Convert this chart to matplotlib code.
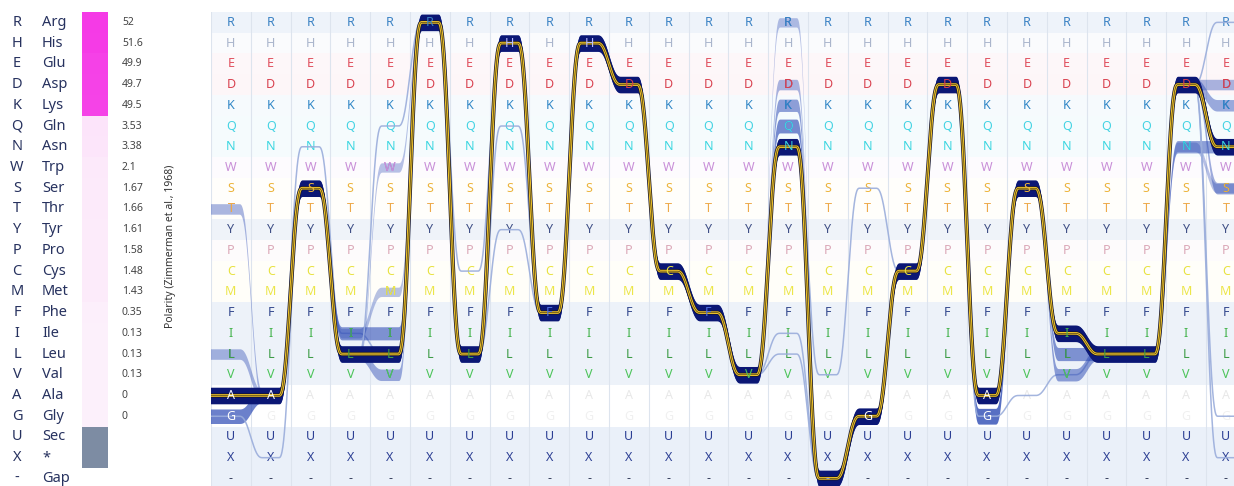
import matplotlib
matplotlib.use('Agg')
import matplotlib.pyplot as plt
import numpy as np
from matplotlib.colors import LinearSegmentedColormap, Normalize

plt.rcParams['font.family'] = ['Noto Sans', 'DejaVu Sans']

# residues, top to bottom
codes = ['R', 'H', 'E', 'D', 'K', 'Q', 'N', 'W', 'S', 'T', 'Y', 'P', 'C', 'M',
         'F', 'I', 'L', 'V', 'A', 'G', 'U', 'X', '-']
names = ['Arg', 'His', 'Glu', 'Asp', 'Lys', 'Gln', 'Asn', 'Trp', 'Ser', 'Thr', 'Tyr',
         'Pro', 'Cys', 'Met', 'Phe', 'Ile', 'Leu', 'Val', 'Ala', 'Gly', 'Sec', '*', 'Gap']
polarity = [52, 51.6, 49.9, 49.7, 49.5, 3.53, 3.38, 2.1, 1.67, 1.66, 1.61, 1.58,
            1.48, 1.43, 0.35, 0.13, 0.13, 0.13, 0, 0]   # Sec, * and Gap have no value

letter_colors = ['#3b82c4', '#aab5cc', '#e0505e', '#d9414f', '#2f86c6', '#43d3e3',
                 '#3ad6e0', '#c98fd8', '#ecb43c', '#eda94a', '#3f4f86', '#dba8b8',
                 '#e8e23e', '#ece64a', '#34498e', '#44b34c', '#3e9c47', '#4cc45a',
                 '#e8e8e8', '#f0f0f0', '#2c3f94', '#2c3f94', '#333c5a']
row_tints = ['#eef3fa', '#fafbfd', '#fdf7f9', '#fdf6f8', '#f6fafd', '#f5fbfd',
             '#f5fbfd', '#fdfbfe', '#fffefb', '#fffefb', '#eff3f9', '#fdfbfc',
             '#fffef9', '#fffef9', '#edf2f9', '#edf2f9', '#edf2f9', '#edf2f9',
             '#ffffff', '#ffffff', '#eaf0f9', '#eaf0f9', '#eaf0f9']

# consensus sequence and the sequences that leave it
consensus = "AASLLRLHFHDCFVN-GCDASILLDN"
consensus_count = 30
variant_paths = [
    "GASLLRLHFHDCFVN-GCDASILLDN", "TASLLRLHFHDCFVN-GCDASILLDN",
    "LASLLRLHFHDCFVN-GCDASILLDN", "GXSLLRLHFHDCFVN-GCDASILLDN",
    "AANILRLHFHDCFVN-GCDASILLDN", "AASIIRLHFHDCFVN-GCDASILLDN",
    "AASLVRLHFHDCFVN-GCDASILLDN", "AASIMRLHFHDCFVN-GCDASILLDN",
    "AASLWRLHFHDCFVN-GCDASILLDN", "AASLQRLHFHDCFVN-GCDASILLDN",
    "AASLLRCHFHDCFVN-GCDASILLDN", "AASLLRLQFHDCFVN-GCDASILLDN",
    "AASLLRLYFHDCFVN-GCDASILLDN", "AASLLRLHFHDCFVR-GCDASILLDN",
    "AASLLRLHFHDCFVD-GCDASILLDN", "AASLLRLHFHDCFVK-GCDASILLDN",
    "AASLLRLHFHDCFVQ-GCDASILLDN", "AASLLRLHFHDCFVI-GCDASILLDN",
    "AASLLRLHFHDCFVL-GCDASILLDN", "AASLLRLHFHDCFVNVSCDASILLDN",
    "AASLLRLHFHDCFVN-GCDGSILLDN", "AASLLRLHFHDCFVN-GCDGAVLLDN",
    "AASLLRLHFHDCFVN-GCDASLLLDN", "AASLLRLHFHDCFVN-GCDASVLLDN",
    "AASLLRLHFHDCFVN-GCDASILLNN", "AASLLRLHFHDCFVN-GCDASILLNS",
    "AASLLRLHFHDCFVN-GCDASILLDD", "AASLLRLHFHDCFVN-GCDASILLDK",
    "AASLLRLHFHDCFVN-GCDASILLDS", "AASLLRLHFHDCFVN-GCDASILLDR",
    "AASLLRLHFHDCFVN-GCDASILLDG", "AASLLRLHFHDCFVN-GCDASILLDX",
]
variant_counts = [8, 3, 3, 1, 1, 6, 4, 2, 2, 1, 1, 1, 1, 2, 3, 5, 7, 1, 1, 1,
                  10, 1, 6, 5, 5, 2, 3, 4, 4, 1, 1, 1]

NAVY = '#0b1775'
BLUE = '#2d4bb5'
LIGHT = '#9aaddb'
row_of = {c: i for i, c in enumerate(codes)}
n_cols = len(consensus)


def smooth_path(seq, x, p=0.2):
    """Flat at each column, smoothstep in between."""
    rows = np.array([row_of[c] for c in seq], float)
    k = np.floor(x).astype(int)
    i = np.clip(k, 0, n_cols - 1)
    j = np.clip(k + 1, 0, n_cols - 1)
    u = np.clip((x - k - p) / (1 - 2 * p), 0, 1)
    s = u ** 3 * (u * (6 * u - 15) + 10)
    y = rows[i] + (rows[j] - rows[i]) * s
    y[x < 0] = rows[0]
    return y


fig = plt.figure(figsize=(12.34, 4.86), dpi=100)
fig.patch.set_facecolor('white')
ytop, ybot = -0.5, -0.5 + 474 / 20.73
axpos_h = 474 / 486

# ---- main flow panel
ax = fig.add_axes([211 / 1234, 0, 1023 / 1234, axpos_h])
ax.set_xlim(-0.5, -0.5 + 1023 / 39.8)
ax.set_ylim(ybot, ytop)
ax.set_axis_off()

for r, tint in enumerate(row_tints):
    ax.axhspan(r - 0.5, r + 0.5, color=tint, lw=0, zorder=0)
for c in range(-1, n_cols):
    ax.axvline(c + 0.5, color='#dde4ee', lw=0.8, zorder=1)

for c in range(n_cols):
    for r, code in enumerate(codes):
        ax.text(c, r, code, ha='center', va='center', fontsize=9,
                color=letter_colors[r], zorder=2)

x = np.linspace(-0.6, n_cols + 0.6, 4000)

# sequences that leave the consensus
for seq, cnt in zip(variant_paths, variant_counts):
    y = smooth_path(seq, x)
    if cnt == 1:
        ax.plot(x, y, color=LIGHT, lw=1.1, alpha=0.9, zorder=3)
    else:
        h = min(0.1 + 0.28 * np.sqrt(cnt / 10), 0.4)
        ax.fill_between(x, y - h, y + h, color=BLUE, lw=0,
                        alpha=min(0.22 + 0.06 * cnt, 0.8), zorder=3)

# consensus bundle
yc = smooth_path(consensus, x)
ax.fill_between(x, yc - 0.4, yc + 0.4, color=NAVY, lw=0, zorder=4)
ax.plot(x, yc, color='#15152e', lw=3.0, zorder=5)
ax.plot(x, yc, color='#f2c42a', lw=1.9, zorder=6)
ax.plot(x, yc, color='#3b3415', lw=0.45, zorder=6)

# letters sitting on the highlighted bands
hl_override = {'A': 'white', 'G': 'white', 'F': '#4f6fe0', 'H': '#b7bcff',
               'Y': '#8a9ae0', 'U': '#8a9ae0', 'X': '#8a9ae0', '-': '#8a9ae0'}
marked = set()
for seq, cnt in zip(variant_paths + [consensus], variant_counts + [consensus_count]):
    if cnt < 2:
        continue
    for c, code in enumerate(seq):
        marked.add((c, code))
for c, code in marked:
    r = row_of[code]
    ax.text(c, r, code, ha='center', va='center', fontsize=9, fontweight='bold',
            color=hl_override.get(code, letter_colors[r]), zorder=8)

# ---- residue legend with polarity scale
lg = fig.add_axes([0, 0, 211 / 1234, axpos_h])
lg.set_xlim(0, 211)
lg.set_ylim(ybot, ytop)
lg.set_axis_off()

pol_cmap = LinearSegmentedColormap.from_list('pol', ['#fcf0fb', '#f53ae6'])
pol_norm = Normalize(vmin=0, vmax=52)
for r, (code, name) in enumerate(zip(codes, names)):
    lg.text(17, r, code, ha='center', va='center', fontsize=10.5, color='#27325f')
    lg.text(42, r, name, ha='left', va='center', fontsize=10.5, color='#27325f')

pol_rows = np.arange(len(polarity))
lg.barh(pol_rows, 26, left=82, height=1.0, color=pol_cmap(pol_norm(polarity)), lw=0)
lg.barh([row_of['U'], row_of['X']], 26, left=82, height=1.0, color='#7d8ca3', lw=0)
for r, v in zip(pol_rows, polarity):
    lg.text(122, r, f'{v:g}', ha='left', va='center', fontsize=7.5, color='#444444')

lg.text(171, 10.8, 'Polarity (Zimmerman et al., 1968)', rotation=90, ha='center',
        va='center', fontsize=7.5, color='#333333')

fig.savefig('out.png', dpi=100, facecolor='white')
